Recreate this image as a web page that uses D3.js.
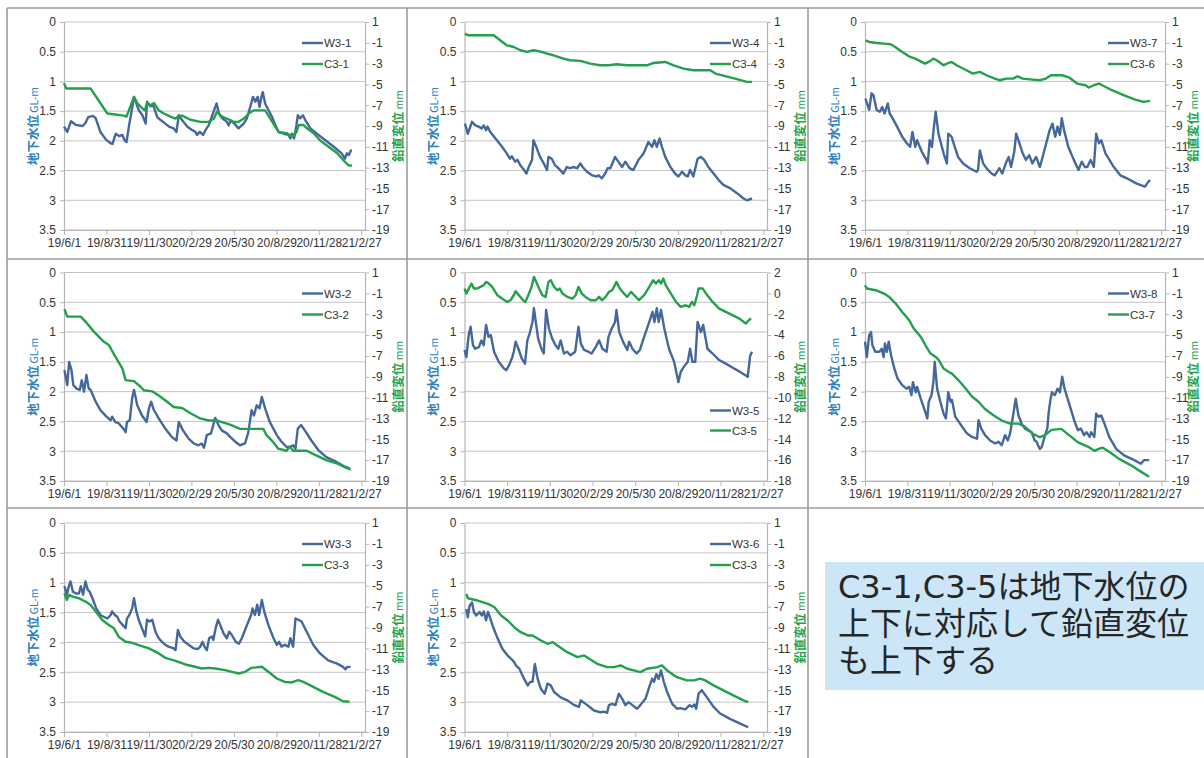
<!DOCTYPE html>
<html>
<head>
<meta charset="utf-8">
<script src="https://cdn.jsdelivr.net/npm/d3@7"></script>
<style>
  body { margin: 0; background: #fff; }
  svg { display: block; }
</style>
</head>
<body>
<svg id="chart" width="1204" height="758"></svg>
<script>
// ---- axis ticks ----
const dateTicks = ["19/6/1", "19/8/31", "19/11/30", "20/2/29", "20/5/30", "20/8/29", "20/11/28", "21/2/27"];
const startDate = "19/6/1";
const endDate = "21/3/7";
const glTicks = [0, 0.5, 1, 1.5, 2, 2.5, 3, 3.5];
const mmTicks = [1, -1, -3, -5, -7, -9, -11, -13, -15, -17, -19];
const mmTicksC35 = [2, 0, -2, -4, -6, -8, -10, -12, -14, -16, -18];

// ---- series: [days since 2019-06-01, value] ----
// groundwater level (GL-m)
const w31 = [[0,1.76],[7,1.85],[15,1.67],[25,1.73],[40,1.75],[46,1.70],[52,1.60],[62,1.58],[68,1.62],[78,1.85],[90,1.98],[100,2.04],[104,2.05],[111,1.88],[118,1.92],[125,1.90],[130,1.99],[134,2.02],[139,1.76],[144,1.54],[150,1.26],[160,1.48],[168,1.57],[175,1.71],[178,1.34],[185,1.42],[191,1.40],[200,1.60],[207,1.65],[217,1.71],[225,1.76],[235,1.79],[241,1.85],[246,1.57],[253,1.65],[264,1.76],[275,1.82],[282,1.85],[285,1.90],[291,1.85],[298,1.90],[303,1.82],[310,1.74],[327,1.37],[332,1.54],[339,1.62],[349,1.68],[353,1.74],[357,1.66],[364,1.70],[374,1.79],[385,1.71],[392,1.62],[399,1.43],[405,1.26],[410,1.34],[415,1.26],[419,1.43],[423,1.26],[426,1.18],[431,1.37],[438,1.48],[446,1.60],[453,1.74],[460,1.85],[471,1.88],[481,1.90],[485,1.96],[488,1.88],[493,1.96],[498,1.74],[501,1.57],[506,1.62],[512,1.57],[517,1.65],[528,1.79],[542,1.88],[560,1.99],[578,2.10],[595,2.21],[602,2.30],[606,2.21],[610,2.24],[615,2.16],[617,2.16]];
const w34 = [[1,1.71],[7,1.88],[16,1.68],[23,1.74],[30,1.76],[37,1.79],[41,1.74],[46,1.82],[49,1.76],[55,1.85],[58,1.88],[69,1.99],[80,2.1],[90,2.21],[97,2.3],[101,2.26],[108,2.35],[113,2.32],[119,2.41],[127,2.49],[132,2.55],[137,2.44],[144,2.32],[147,1.99],[153,2.1],[161,2.27],[169,2.38],[176,2.49],[179,2.27],[186,2.3],[193,2.41],[200,2.46],[211,2.55],[218,2.44],[225,2.46],[232,2.44],[240,2.46],[247,2.38],[252,2.44],[261,2.52],[272,2.58],[282,2.6],[286,2.58],[293,2.63],[300,2.55],[305,2.46],[311,2.46],[321,2.27],[328,2.35],[336,2.44],[343,2.35],[352,2.46],[360,2.49],[371,2.32],[382,2.21],[392,2.02],[400,2.1],[405,1.99],[410,2.1],[416,1.96],[421,2.1],[428,2.27],[439,2.44],[449,2.55],[456,2.6],[464,2.52],[471,2.58],[476,2.6],[481,2.49],[488,2.6],[497,2.3],[504,2.27],[511,2.32],[520,2.44],[531,2.55],[542,2.66],[552,2.74],[567,2.8],[581,2.88],[595,2.97],[602,3.0],[613,2.97]];
const w37 = [[1,1.29],[9,1.48],[14,1.2],[18,1.23],[25,1.48],[32,1.51],[37,1.43],[42,1.54],[49,1.37],[53,1.54],[58,1.6],[69,1.76],[80,1.93],[90,2.04],[97,2.1],[102,1.85],[108,2.1],[112,1.99],[122,2.18],[132,2.32],[135,2.38],[139,1.99],[144,2.1],[147,1.85],[152,1.51],[158,1.88],[169,2.21],[176,2.38],[179,1.88],[186,1.93],[193,2.1],[200,2.27],[211,2.38],[225,2.46],[240,2.52],[243,2.49],[247,2.16],[254,2.38],[261,2.46],[272,2.55],[279,2.58],[289,2.46],[295,2.55],[304,2.35],[309,2.27],[314,2.44],[321,2.18],[325,1.88],[332,2.04],[339,2.21],[346,2.32],[353,2.24],[360,2.38],[368,2.27],[376,2.44],[385,2.18],[397,1.82],[403,1.71],[409,1.93],[414,1.76],[419,1.9],[423,1.62],[428,1.82],[437,2.1],[449,2.32],[459,2.49],[466,2.35],[473,2.44],[478,2.44],[485,2.32],[492,2.44],[497,1.88],[503,2.04],[508,1.99],[517,2.21],[535,2.44],[549,2.58],[563,2.63],[584,2.72],[602,2.77],[609,2.69],[613,2.66]];
const w32 = [[1,1.64],[7,1.89],[11,1.5],[16,1.64],[20,1.89],[27,1.95],[34,1.97],[38,1.81],[43,2.0],[48,1.72],[53,1.95],[57,1.97],[68,2.17],[78,2.31],[91,2.42],[100,2.48],[103,2.42],[110,2.51],[117,2.53],[127,2.62],[132,2.68],[135,2.51],[141,2.48],[146,2.11],[150,1.97],[157,2.23],[167,2.4],[177,2.51],[182,2.28],[187,2.17],[192,2.3],[203,2.45],[217,2.62],[231,2.76],[241,2.82],[246,2.51],[255,2.65],[267,2.79],[278,2.87],[288,2.9],[295,2.87],[300,2.94],[306,2.73],[315,2.7],[324,2.44],[331,2.56],[338,2.65],[349,2.7],[356,2.76],[367,2.84],[377,2.9],[388,2.87],[395,2.68],[402,2.31],[407,2.4],[413,2.23],[419,2.28],[424,2.09],[431,2.28],[441,2.51],[456,2.73],[466,2.84],[477,2.93],[484,2.93],[491,2.9],[496,2.96],[501,2.62],[508,2.56],[516,2.65],[530,2.82],[545,2.98],[562,3.1],[584,3.18],[602,3.26],[612,3.29]];
const w35 = [[0,1.3],[4,1.42],[9,1.05],[13,0.91],[18,1.22],[23,1.28],[31,1.25],[36,1.14],[41,1.22],[46,0.88],[51,1.08],[56,1.05],[63,1.33],[73,1.5],[84,1.61],[89,1.64],[95,1.56],[102,1.42],[105,1.33],[109,1.16],[115,1.28],[122,1.44],[129,1.53],[134,1.14],[139,1.02],[145,0.83],[148,0.6],[152,0.83],[157,1.11],[164,1.28],[169,1.36],[174,0.63],[180,0.94],[187,1.11],[194,1.22],[200,1.28],[205,1.14],[212,1.36],[219,1.33],[226,1.39],[236,1.33],[243,0.91],[248,1.19],[255,1.3],[264,1.33],[271,1.36],[280,1.25],[287,1.14],[294,1.28],[303,1.33],[307,1.08],[314,0.94],[321,0.83],[324,0.63],[330,1.0],[338,1.16],[347,1.3],[351,1.16],[358,1.28],[367,1.36],[374,1.3],[383,1.08],[394,0.83],[401,0.66],[405,0.83],[410,0.6],[414,0.83],[419,0.63],[426,0.94],[436,1.28],[447,1.5],[456,1.84],[461,1.67],[468,1.58],[476,1.5],[481,1.28],[486,1.5],[492,1.5],[497,0.83],[504,1.0],[509,0.88],[518,1.28],[529,1.36],[543,1.47],[557,1.53],[572,1.6],[586,1.66],[604,1.75],[609,1.4],[613,1.33]];
const w38 = [[0,1.16],[4,1.42],[9,1.05],[13,1.0],[16,1.22],[22,1.33],[31,1.33],[36,1.28],[40,1.42],[43,1.19],[47,1.33],[51,1.16],[56,1.39],[63,1.61],[70,1.78],[80,1.89],[89,1.95],[95,1.92],[100,2.06],[103,1.84],[109,2.01],[112,1.92],[120,2.12],[127,2.28],[134,2.45],[137,2.17],[143,2.06],[147,1.84],[150,1.5],[155,1.95],[162,2.17],[169,2.37],[174,2.45],[179,2.01],[184,2.17],[187,2.14],[194,2.42],[201,2.5],[209,2.59],[219,2.7],[230,2.76],[241,2.79],[244,2.48],[250,2.62],[258,2.73],[269,2.82],[280,2.87],[287,2.84],[294,2.9],[301,2.73],[307,2.82],[312,2.7],[319,2.37],[324,2.12],[330,2.4],[337,2.54],[344,2.62],[351,2.65],[358,2.68],[365,2.82],[369,2.84],[372,2.9],[376,2.96],[380,2.93],[387,2.73],[392,2.62],[395,2.34],[399,2.12],[402,2.01],[408,2.06],[414,1.95],[419,2.01],[424,1.75],[429,1.95],[440,2.23],[451,2.51],[458,2.65],[464,2.62],[471,2.73],[476,2.68],[483,2.76],[486,2.68],[493,2.76],[497,2.37],[502,2.42],[508,2.4],[515,2.54],[525,2.76],[540,2.96],[557,3.07],[579,3.15],[593,3.21],[600,3.15],[611,3.15]];
const w33 = [[1,1.06],[6,1.2],[11,1.04],[14,0.98],[19,1.15],[26,1.18],[32,1.18],[36,1.06],[41,1.2],[46,0.98],[51,1.12],[55,1.15],[61,1.26],[69,1.43],[78,1.54],[85,1.57],[93,1.6],[100,1.54],[103,1.48],[109,1.54],[114,1.57],[119,1.65],[126,1.71],[132,1.76],[135,1.6],[140,1.54],[146,1.43],[150,1.26],[155,1.48],[160,1.62],[167,1.76],[174,1.9],[178,1.62],[183,1.65],[189,1.62],[196,1.82],[203,1.93],[210,1.99],[217,2.04],[224,2.07],[235,2.1],[239,2.13],[244,1.79],[249,1.9],[258,1.99],[267,2.04],[278,2.1],[287,2.11],[292,2.07],[297,1.99],[301,2.07],[306,2.13],[311,1.93],[317,1.9],[320,1.96],[325,1.76],[330,1.62],[335,1.71],[342,1.85],[349,1.93],[354,1.82],[360,1.88],[368,1.99],[375,2.02],[381,1.93],[392,1.71],[401,1.54],[404,1.43],[409,1.54],[414,1.37],[418,1.54],[424,1.29],[429,1.48],[438,1.71],[449,1.93],[456,2.04],[461,1.99],[466,2.07],[473,2.04],[481,2.07],[485,1.93],[491,2.07],[496,1.6],[502,1.62],[509,1.65],[520,1.82],[534,2.04],[548,2.18],[566,2.3],[584,2.35],[598,2.41],[603,2.45],[607,2.41],[614,2.41]];
const w36 = [[4,1.44],[7,1.58],[11,1.38],[16,1.33],[20,1.49],[25,1.55],[32,1.49],[37,1.55],[41,1.48],[46,1.63],[50,1.49],[53,1.55],[60,1.72],[71,1.94],[81,2.11],[92,2.22],[99,2.27],[106,2.33],[110,2.39],[117,2.44],[127,2.61],[135,2.72],[140,2.66],[145,2.66],[150,2.36],[156,2.61],[163,2.78],[171,2.86],[177,2.69],[184,2.72],[191,2.83],[205,2.92],[219,2.97],[234,3.05],[244,3.08],[248,2.97],[253,3.0],[262,3.05],[276,3.14],[290,3.17],[297,3.16],[304,3.18],[308,3.05],[315,3.03],[322,3.05],[329,2.86],[336,2.94],[343,3.05],[350,3.0],[358,3.05],[368,3.11],[375,3.05],[386,2.94],[395,2.72],[400,2.61],[404,2.66],[409,2.53],[414,2.61],[419,2.47],[425,2.66],[432,2.83],[443,3.03],[453,3.11],[460,3.1],[471,3.12],[480,3.05],[485,3.08],[490,3.04],[494,3.11],[499,2.86],[506,2.8],[517,2.92],[531,3.08],[545,3.19],[566,3.28],[588,3.36],[605,3.42]];

// vertical displacement (mm)
const c31 = [[0,-4.9],[5,-5.4],[57,-5.4],[93,-7.8],[128,-8.0],[134,-8.1],[150,-6.2],[157,-6.8],[168,-7.3],[173,-7.5],[178,-6.8],[185,-7.0],[193,-6.8],[203,-7.5],[214,-7.8],[228,-8.1],[239,-8.3],[246,-8.0],[253,-8.0],[271,-8.4],[292,-8.6],[310,-8.6],[321,-8.3],[328,-7.6],[335,-8.0],[349,-8.3],[364,-8.6],[374,-8.6],[385,-8.3],[396,-7.8],[406,-7.5],[431,-7.5],[438,-8.0],[449,-8.8],[460,-9.6],[478,-9.7],[488,-10.0],[498,-9.6],[503,-8.9],[513,-8.9],[520,-9.2],[535,-9.7],[549,-10.4],[567,-11.0],[585,-11.6],[599,-12.3],[610,-12.8],[617,-12.8]];
const c34 = [[1,-0.12],[8,-0.28],[62,-0.28],[76,-0.76],[90,-1.24],[105,-1.4],[119,-1.72],[133,-1.88],[147,-1.72],[158,-1.8],[176,-2.04],[190,-2.2],[211,-2.52],[225,-2.68],[247,-2.74],[268,-3.0],[289,-3.16],[307,-3.16],[325,-3.06],[346,-3.16],[389,-3.16],[403,-2.94],[428,-2.84],[446,-3.16],[467,-3.48],[488,-3.64],[524,-3.64],[535,-3.96],[556,-4.2],[581,-4.5],[602,-4.76],[613,-4.76]];
const c36 = [[1,-0.76],[9,-0.92],[26,-1.02],[41,-1.08],[55,-1.14],[65,-1.4],[80,-1.88],[97,-2.36],[108,-2.52],[129,-3.0],[137,-2.84],[147,-2.52],[154,-2.68],[169,-3.16],[176,-3.0],[186,-2.84],[197,-3.16],[218,-3.64],[232,-3.96],[247,-3.8],[261,-4.12],[279,-4.44],[289,-4.6],[304,-4.44],[318,-4.44],[328,-4.22],[339,-4.44],[360,-4.54],[375,-4.6],[389,-4.44],[400,-4.12],[424,-4.12],[439,-4.34],[456,-4.92],[474,-5.08],[481,-5.3],[492,-5.08],[503,-4.92],[510,-5.08],[531,-5.56],[556,-6.04],[581,-6.46],[599,-6.68],[613,-6.58]];
const c32 = [[1,-2.53],[7,-3.23],[36,-3.23],[46,-3.71],[64,-4.67],[85,-5.63],[96,-5.95],[110,-7.08],[125,-8.2],[132,-9.32],[150,-9.42],[164,-9.96],[171,-10.3],[189,-10.4],[203,-10.8],[221,-11.4],[235,-11.9],[253,-12.0],[271,-12.5],[292,-13.0],[310,-13.2],[328,-13.2],[356,-13.6],[377,-14.0],[427,-14.0],[434,-14.6],[449,-15.3],[459,-15.9],[477,-16.1],[484,-15.7],[491,-16.1],[520,-16.1],[538,-16.5],[562,-17.0],[584,-17.3],[605,-17.75],[614,-17.9]];
const c35 = [[0,0.46],[4,-0.02],[11,0.62],[15,0.94],[20,0.46],[27,0.46],[34,0.62],[41,0.78],[46,1.1],[52,0.94],[59,0.62],[70,-0.18],[80,-0.5],[91,-0.82],[98,-0.66],[105,-0.18],[109,0.21],[116,-0.18],[125,-0.66],[130,-0.82],[136,-0.18],[143,0.62],[148,1.58],[153,1.1],[159,0.46],[166,-0.18],[173,-0.34],[179,1.1],[184,1.26],[191,0.62],[198,0.3],[203,0.46],[209,-0.02],[219,-0.34],[230,-0.5],[237,-0.18],[243,0.62],[250,-0.02],[258,-0.34],[269,-0.66],[280,-0.66],[287,-0.34],[293,-0.66],[301,-0.34],[308,0.14],[315,0.3],[324,1.1],[331,0.46],[340,-0.02],[347,-0.34],[355,0.14],[362,-0.18],[372,-0.66],[383,-0.18],[394,0.62],[402,1.26],[408,0.94],[414,1.26],[419,0.94],[424,1.42],[429,0.78],[440,-0.02],[451,-0.82],[461,-1.3],[472,-1.14],[479,-1.3],[485,-0.82],[490,-1.14],[496,-0.18],[499,0.46],[508,0.46],[515,-0.02],[529,-0.82],[543,-1.46],[565,-1.94],[586,-2.42],[600,-2.9],[606,-2.58],[611,-2.42]];
const c37 = [[0,-0.22],[4,-0.54],[23,-0.7],[41,-1.02],[52,-1.34],[66,-1.98],[80,-2.78],[95,-3.58],[105,-4.38],[120,-5.18],[130,-5.98],[141,-6.78],[152,-7.1],[159,-7.42],[169,-8.22],[180,-8.54],[187,-8.7],[201,-9.34],[216,-10.1],[230,-10.9],[244,-11.4],[258,-12.1],[276,-12.7],[294,-13.2],[312,-13.5],[330,-13.5],[344,-13.8],[362,-14.5],[376,-14.8],[387,-14.6],[401,-14.1],[422,-14.0],[436,-14.5],[458,-15.3],[479,-15.7],[493,-16.1],[504,-15.9],[511,-15.8],[525,-16.2],[547,-16.9],[572,-17.5],[593,-18.1],[611,-18.6]];
const c33a = [[1,-5.72],[6,-6.36],[11,-5.88],[18,-6.04],[32,-6.2],[46,-6.52],[57,-6.84],[68,-7.48],[82,-8.28],[96,-8.76],[107,-9.08],[117,-9.88],[132,-10.36],[146,-10.46],[160,-10.68],[182,-11.0],[203,-11.48],[217,-11.9],[239,-12.2],[260,-12.54],[281,-12.76],[295,-12.92],[310,-12.86],[324,-12.92],[345,-13.08],[360,-13.24],[374,-13.4],[388,-13.24],[402,-12.86],[424,-12.76],[438,-13.24],[456,-13.88],[473,-14.2],[488,-14.26],[502,-14.04],[513,-14.2],[534,-14.68],[555,-15.16],[580,-15.64],[598,-16.06],[612,-16.1]];
const c33b = [[4,-5.78],[7,-6.2],[28,-6.42],[50,-6.74],[64,-7.06],[78,-7.85],[92,-8.33],[106,-8.97],[120,-9.45],[135,-9.76],[145,-9.76],[163,-10.24],[177,-10.56],[188,-10.4],[198,-10.72],[219,-11.36],[241,-11.83],[255,-11.67],[266,-11.99],[283,-12.47],[304,-12.79],[319,-12.79],[333,-12.63],[347,-12.95],[361,-13.11],[375,-13.27],[389,-12.95],[411,-12.79],[421,-12.63],[432,-13.11],[453,-13.75],[474,-14.06],[489,-14.06],[503,-13.9],[513,-14.06],[531,-14.54],[552,-15.02],[573,-15.5],[595,-15.97],[605,-16.13]];

const noteLines = ["C3-1,C3-5は地下水位の", "上下に対応して鉛直変位", "も上下する"];

// ---- panel arrangement ----
const panels = [
  { w: w31, wName: "W3-1", c: c31, cName: "C3-1", mm: mmTicks, row: 0, col: 0 },
  { w: w34, wName: "W3-4", c: c34, cName: "C3-4", mm: mmTicks, row: 0, col: 1 },
  { w: w37, wName: "W3-7", c: c36, cName: "C3-6", mm: mmTicks, row: 0, col: 2 },
  { w: w32, wName: "W3-2", c: c32, cName: "C3-2", mm: mmTicks, row: 1, col: 0 },
  { w: w35, wName: "W3-5", c: c35, cName: "C3-5", mm: mmTicksC35, row: 1, col: 1, legendLow: true },
  { w: w38, wName: "W3-8", c: c37, cName: "C3-7", mm: mmTicks, row: 1, col: 2 },
  { w: w33, wName: "W3-3", c: c33a, cName: "C3-3", mm: mmTicks, row: 2, col: 0 },
  { w: w36, wName: "W3-6", c: c33b, cName: "C3-3", mm: mmTicks, row: 2, col: 1 }
];

const colX = [[64, 365], [464.5, 767], [865, 1165]];
const rowY = [[22, 230], [272.5, 481], [523, 732]];
const BLUE = "#44679c";
const GREEN = "#23a04c";
const TICK_FONT = "'Liberation Sans', Arial, sans-serif";

const svg = d3.select("#chart");
const parse = d3.timeParse("%y/%m/%d");
const t0 = parse(startDate);
const t1 = parse(endDate);
const tickDates = dateTicks.map(parse);

// panel frame lines
const frame = svg.append("g").attr("stroke", "#9c9c9c").attr("stroke-width", 1.6);
[8, 259, 508].forEach(y => frame.append("line").attr("x1", 7).attr("x2", 1204).attr("y1", y).attr("y2", y));
[7, 407, 808].forEach(x => frame.append("line").attr("x1", x).attr("x2", x).attr("y1", 8).attr("y2", 758));

panels.forEach(p => {
  const [left, right] = colX[p.col];
  const [top, bottom] = rowY[p.row];
  const g = svg.append("g");

  const x = d3.scaleTime().domain([t0, t1]).range([left, right]);
  const yGL = d3.scaleLinear().domain([0, 3.5]).range([top, bottom]);
  const yMM = d3.scaleLinear().domain([p.mm[0], p.mm[p.mm.length - 1]]).range([top, bottom]);

  // horizontal gridlines
  g.append("g").selectAll("line").data(glTicks).join("line")
    .attr("x1", left).attr("x2", right)
    .attr("y1", d => yGL(d)).attr("y2", d => yGL(d))
    .attr("stroke", "#c4c4c4").attr("stroke-width", 1);

  // left axis (groundwater level)
  const axL = g.append("g").attr("transform", `translate(${left},0)`)
    .call(d3.axisLeft(yGL).tickValues(glTicks).tickFormat(d => String(d)).tickSize(4).tickSizeOuter(0).tickPadding(4));
  // right axis (vertical displacement)
  const axR = g.append("g").attr("transform", `translate(${right},0)`)
    .call(d3.axisRight(yMM).tickValues(p.mm).tickFormat(d => String(d)).tickSize(4).tickSizeOuter(0).tickPadding(3));
  // date axis
  const axB = g.append("g").attr("transform", `translate(0,${bottom})`)
    .call(d3.axisBottom(x).tickValues(tickDates).tickFormat((d, i) => dateTicks[i]).tickSize(5).tickSizeOuter(0).tickPadding(3));

  [axL, axR, axB].forEach(ax => {
    ax.selectAll(".domain").attr("stroke", "#b5b5b5").attr("stroke-width", 1.2);
    ax.selectAll(".tick line").attr("stroke", "#b5b5b5");
    ax.selectAll("text").attr("fill", "#333").style("font-family", TICK_FONT).style("font-size", "12px");
  });

  // axis titles
  const midY = (top + bottom) / 2;
  const tl = g.append("text").attr("transform", `translate(${left - 32},${midY}) rotate(-90)`)
    .attr("text-anchor", "middle").attr("dy", "0.35em").attr("fill", "#2b80bd")
    .style("font-family", "'Noto Sans CJK JP', sans-serif");
  tl.append("tspan").style("font-size", "12.5px").style("font-weight", "bold").text("地下水位");
  tl.append("tspan").style("font-size", "10.5px").text(" GL-m");
  const trX = right + (p.col === 2 ? 27 : 32);
  const tr = g.append("text").attr("transform", `translate(${trX},${midY}) rotate(-90)`)
    .attr("text-anchor", "middle").attr("dy", "0.35em").attr("fill", "#22a24a")
    .style("font-family", "'Noto Sans CJK JP', sans-serif");
  tr.append("tspan").style("font-size", "12.5px").style("font-weight", "bold").text("鉛直変位");
  tr.append("tspan").style("font-size", "10.5px").text("  mm");

  // series lines
  const lineGL = d3.line().x(d => x(d3.timeDay.offset(t0, d[0]))).y(d => yGL(d[1]));
  const lineMM = d3.line().x(d => x(d3.timeDay.offset(t0, d[0]))).y(d => yMM(d[1]));
  g.append("path").datum(p.w).attr("d", lineGL)
    .attr("fill", "none").attr("stroke", BLUE).attr("stroke-width", 2.4).attr("stroke-linejoin", "round");
  g.append("path").datum(p.c).attr("d", lineMM)
    .attr("fill", "none").attr("stroke", GREEN).attr("stroke-width", 2.4).attr("stroke-linejoin", "round");

  // legend
  const lx0 = right - (p.col === 0 ? 63 : 57);
  const lx1 = lx0 + 21;
  const ly = p.legendLow ? [top + 138, top + 158] : [top + 21, top + 42];
  [[p.wName, BLUE], [p.cName, GREEN]].forEach(([name, color], i) => {
    g.append("line").attr("x1", lx0).attr("x2", lx1).attr("y1", ly[i]).attr("y2", ly[i])
      .attr("stroke", color).attr("stroke-width", 2.4);
    g.append("text").attr("x", lx1 + 1).attr("y", ly[i]).attr("dy", "0.35em")
      .attr("fill", "#333").style("font-family", TICK_FONT).style("font-size", "11.5px").text(name);
  });
});

// note box
const note = svg.append("g");
note.append("rect").attr("x", 825).attr("y", 562).attr("width", 379).attr("height", 128).attr("fill", "#cce6f7");
note.selectAll("text").data(noteLines).join("text")
  .attr("x", 838).attr("y", (d, i) => 598 + i * 37)
  .attr("fill", "#262626")
  .style("font-family", "'DejaVu Sans', 'Noto Sans CJK JP', sans-serif")
  .style("font-size", "32px")
  .text(d => d);
</script>
</body>
</html>
